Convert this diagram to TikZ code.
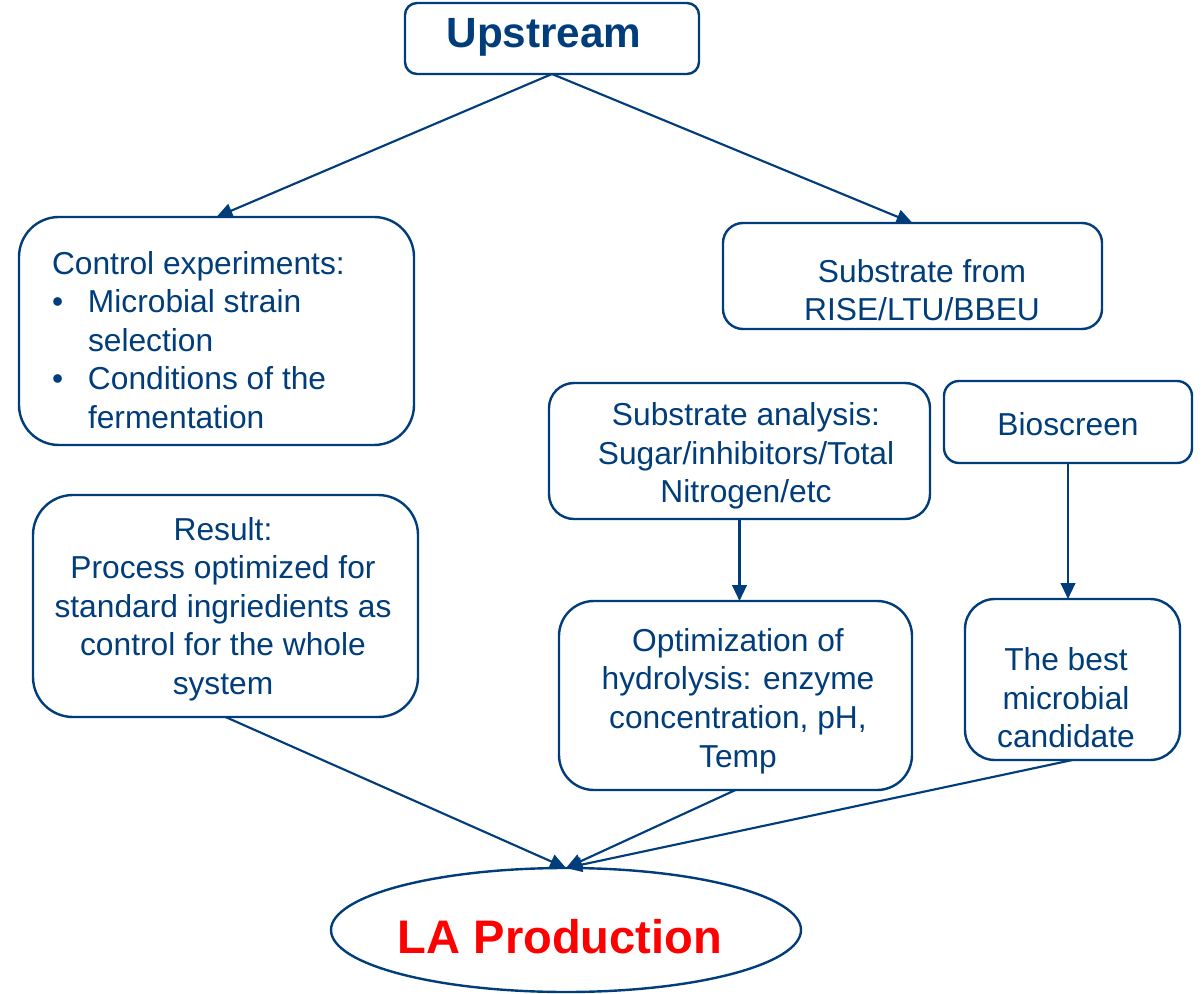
\documentclass[tikz,border=0pt]{standalone}
\usepackage{fontspec}
\setmainfont{Liberation Sans}
\usetikzlibrary{arrows.meta,shapes.geometric,calc}
\definecolor{dblue}{RGB}{0,61,122}
\definecolor{lred}{RGB}{255,0,0}
\begin{document}
\begin{tikzpicture}[x=0.75pt,y=-0.75pt,
  box/.style={draw=dblue,line width=1.8pt,rectangle,inner sep=0pt,outer sep=0pt},
  txt/.style={text=dblue,inner sep=0pt,outer sep=0pt,align=center,font=\fontsize{23.8}{28.9}\selectfont},
  conn/.style={draw=dblue,line width=1.6pt,-{Triangle[length=12pt,width=11pt]}}]
\useasboundingbox (0,0) rectangle (1203,994);
% boxes
\node[box,rounded corners=9pt,minimum width=220.5pt,minimum height=53.25pt] (up) at (552,38.5) {};
\node[box,rounded corners=30pt,minimum width=296.25pt,minimum height=171pt] (ctrl) at (216.5,331) {};
\node[box,rounded corners=15pt,minimum width=284.25pt,minimum height=79.5pt] (sub) at (912.5,276) {};
\node[box,rounded corners=18.75pt,minimum width=285.75pt,minimum height=102pt] (ana) at (739.5,451) {};
\node[box,rounded corners=11.25pt,minimum width=186pt,minimum height=61.5pt] (bio) at (1068,422) {};
\node[box,rounded corners=30pt,minimum width=288.75pt,minimum height=166.5pt] (res) at (225.5,606) {};
\node[box,rounded corners=26.25pt,minimum width=264.75pt,minimum height=141.75pt] (opt) at (735.5,695.5) {};
\node[box,rounded corners=22.5pt,minimum width=161.25pt,minimum height=120.75pt] (best) at (1072.5,679.5) {};
\node[box,ellipse,minimum width=352.5pt,minimum height=93pt] (lap) at (566,930) {};
% texts
\node[txt,anchor=base,font=\fontsize{31.7}{36}\selectfont\bfseries] (upT) at (544,48) {Upstream};
\node[txt,anchor=west,align=left] (ctrlT) at (52,340) {Control experiments:\\
\hbox to 27pt{\textbullet\hfil}Microbial strain\\
\hspace*{27pt}selection\\
\hbox to 27pt{\textbullet\hfil}Conditions of the\\
\hspace*{27pt}fermentation};
\node[txt] (subT) at (922,290) {Substrate from\\RISE/LTU/BBEU};
\node[txt] (anaT) at (746,456) {Substrate analysis:\\Sugar/inhibitors/Total\\Nitrogen/etc};
\node[txt,anchor=base] (bioT) at (1068,436) {Bioscreen};
\node[txt] (resT) at (223,609) {Result:\\Process optimized for\\standard ingriedients as\\control for the whole\\system};
\node[txt] (optT) at (738,701) {Optimization of\\hydrolysis: enzyme\\concentration, pH,\\Temp};
\node[txt] (bestT) at (1066,698) {The best\\microbial\\candidate};
\node[txt,anchor=base,text=lred,font=\fontsize{35.3}{40}\selectfont\bfseries] (lapT) at (560,953) {LA Production};
% connectors
\draw[conn] (up.south) -- (ctrl.north);
\draw[conn] (up.south) -- (sub.north);
\draw[conn] (ana.south) -- (ana.south |- opt.north);
\draw[conn] (bio.south) -- (bio.south |- best.north);
\draw[conn] (res.south) -- (lap.north);
\draw[conn] (opt.south) -- (lap.north);
\draw[conn] (best.south) -- (lap.north);
\end{tikzpicture}
\end{document}
